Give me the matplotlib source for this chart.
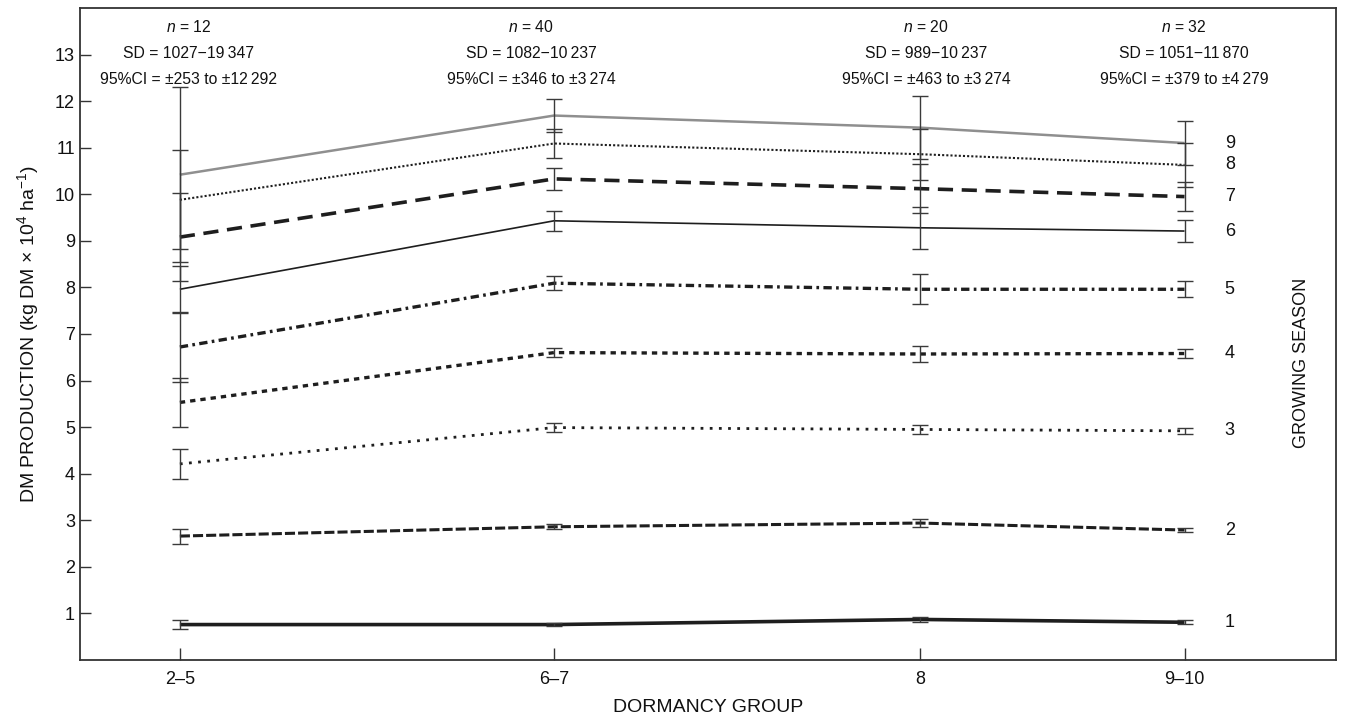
import matplotlib
matplotlib.use("Agg")
import matplotlib.pyplot as plt

plt.rcParams['font.family'] = ['Liberation Sans', 'DejaVu Sans']
plt.rcParams['mathtext.fontset'] = 'custom'
plt.rcParams['mathtext.rm'] = 'Liberation Sans'
plt.rcParams['mathtext.it'] = 'Liberation Sans:italic'

# ---- data ----
groups = ["2–5", "6–7", "8", "9–10"]
seasons = ["1", "2", "3", "4", "5", "6", "7", "8", "9"]
means = [
    [0.76, 0.76, 0.87, 0.81],
    [2.66, 2.86, 2.94, 2.79],
    [4.21, 4.99, 4.95, 4.92],
    [5.53, 6.60, 6.57, 6.58],
    [6.72, 8.09, 7.96, 7.96],
    [7.96, 9.43, 9.28, 9.21],
    [9.08, 10.33, 10.12, 9.95],
    [9.88, 11.09, 10.86, 10.63],
    [10.42, 11.69, 11.43, 11.10],
]
errors = [
    [0.09, 0.03, 0.05, 0.04],
    [0.16, 0.05, 0.09, 0.04],
    [0.33, 0.09, 0.10, 0.06],
    [0.52, 0.10, 0.18, 0.10],
    [0.75, 0.15, 0.32, 0.17],
    [0.50, 0.22, 0.45, 0.24],
    [0.95, 0.24, 0.53, 0.31],
    [1.06, 0.32, 0.55, 0.48],
    [1.88, 0.36, 0.67, 0.47],
]
n_labels = ["12", "40", "20", "32"]
sd_labels = ["1027−19\u2009347", "1082−10\u2009237", "989−10\u2009237", "1051−11\u2009870"]
ci_labels = ["±253 to ±12\u2009292", "±346 to ±3\u2009274", "±463 to ±3\u2009274", "±379 to ±4\u2009279"]

# ---- layout ----
xpos = [0, 1, 1.979, 2.685]
ann_x = [0.0868, 0.3591, 0.6736, 0.879]
styles = [
    dict(color='#1e1e1e', lw=2.6, ls='-'),
    dict(color='#1e1e1e', lw=2.2, ls=(0, (3.3, 1.0))),
    dict(color='#1e1e1e', lw=2.0, ls=(0, (1, 2.3))),
    dict(color='#1e1e1e', lw=2.4, ls=(0, (1.6, 1.5))),
    dict(color='#1e1e1e', lw=2.4, ls=(0, (2.5, 1.3, 0.8, 1.3))),
    dict(color='#1e1e1e', lw=1.2, ls='-'),
    dict(color='#1e1e1e', lw=2.6, ls=(0, (4.2, 2.4))),
    dict(color='#1e1e1e', lw=1.5, ls=(0, (1, 1))),
    dict(color='#8f8f8f', lw=1.8, ls='-'),
]

fig = plt.figure(figsize=(13.46, 7.25), dpi=100)
ax = fig.add_axes([0.0594, 0.0897, 0.9332, 0.8993])

for s, m, e, st in zip(seasons, means, errors, styles):
    ax.plot(xpos, m, color=st['color'], lw=st['lw'], linestyle=st['ls'],
            zorder=2, solid_capstyle='butt', dash_capstyle='butt')
    ax.errorbar(xpos, m, yerr=e, fmt='none', ecolor='#3a3a3a',
                elinewidth=1.0, capsize=6, capthick=1.0, zorder=3)
    ax.annotate(s, xy=(xpos[-1], m[-1]), xytext=(29, 0),
                textcoords='offset points', ha='left', va='center',
                fontsize=13, color='#111111')

ax.set_xlim(-0.267, 3.09)
ax.set_ylim(0, 14)
ax.set_yticks(range(1, 14))
ax.set_xticks(xpos)
ax.set_xticklabels(groups)
ax.tick_params(axis='both', direction='in', labelsize=13, colors='#111111')
ax.tick_params(axis='y', length=8, width=1, color='#333333')
ax.tick_params(axis='x', length=8.5, width=1, color='#333333', pad=8)
for sp in ax.spines.values():
    sp.set_linewidth(1.3)
    sp.set_color('#333333')

ax.set_xlabel("DORMANCY GROUP", fontsize=14, color='#111111', labelpad=8)
ax.set_ylabel("DM PRODUCTION (kg DM × 10$^{4}$ ha$^{-1}$)", fontsize=14,
              color='#111111', labelpad=10)

for xa, n, sd, ci in zip(ann_x, n_labels, sd_labels, ci_labels):
    ax.text(xa, 0.971, "$n$ = " + n, transform=ax.transAxes, ha='center',
            va='center', fontsize=11.3, color='#111111')
    ax.text(xa, 0.930, "SD = " + sd, transform=ax.transAxes, ha='center',
            va='center', fontsize=11.3, color='#111111')
    ax.text(xa, 0.891, "95%CI = " + ci, transform=ax.transAxes, ha='center',
            va='center', fontsize=11.3, color='#111111')

ax.text(0.9725, 0.455, "GROWING SEASON", transform=ax.transAxes, rotation=90,
        ha='center', va='center', fontsize=13, color='#111111')

fig.savefig("out.png", dpi=100)
